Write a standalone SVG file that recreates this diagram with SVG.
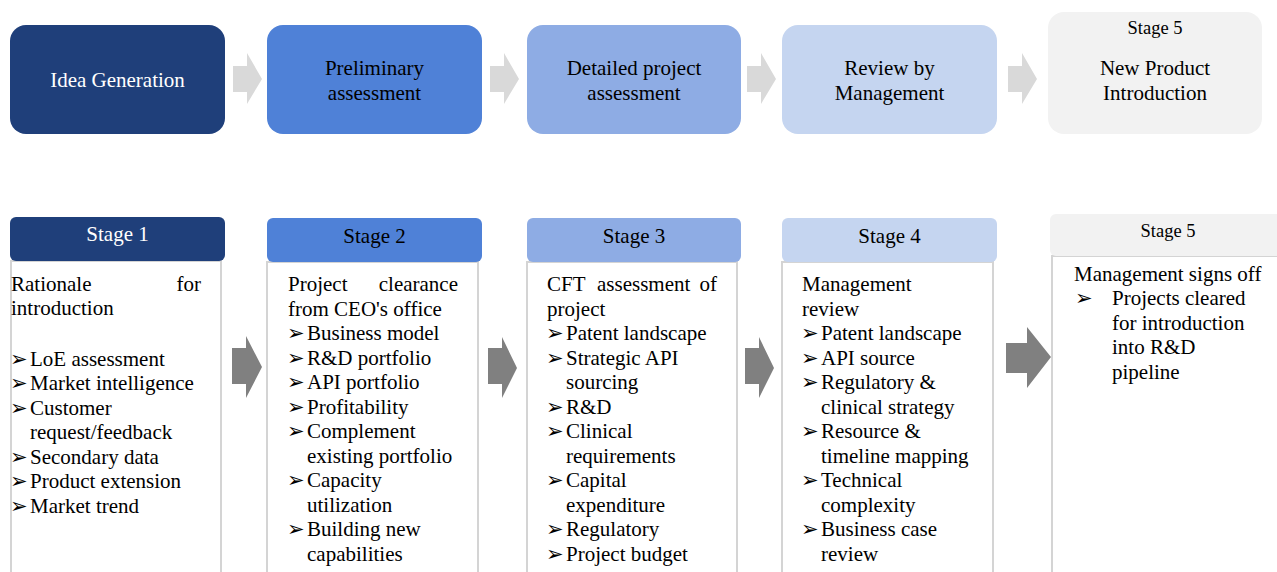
<svg xmlns="http://www.w3.org/2000/svg" width="1277" height="572" viewBox="0 0 1277 572">
<style>
text{font-family:"Liberation Serif","Times New Roman",serif;font-size:21px;fill:#000}
.c{text-anchor:middle}
.w{fill:#fff}
.e{text-anchor:end}
.s{font-size:18.5px}
.b{font-family:"DejaVu Sans",sans-serif;font-size:21px}
.body{fill:#fff;stroke:#d4d4d4;stroke-width:2}
.la{fill:#d9d9d9}
.da{fill:#808080}
</style>
<rect width="1277" height="572" fill="#fff"/>

<!-- Top row -->
<g id="top1"><rect x="10" y="25" width="215" height="109" rx="16" fill="#1f3f7a"/><text class="c w" x="117.5" y="87">Idea Generation</text></g>
<g id="top2"><rect x="267" y="25" width="215" height="109" rx="16" fill="#4f81d7"/><text class="c" x="374.5" y="75">Preliminary</text><text class="c" x="374.5" y="100">assessment</text></g>
<g id="top3"><rect x="527" y="25" width="214" height="109" rx="16" fill="#8eace4"/><text class="c" x="634" y="75">Detailed project</text><text class="c" x="634" y="100">assessment</text></g>
<g id="top4"><rect x="782" y="25" width="215" height="109" rx="16" fill="#c5d5f0"/><text class="c" x="889.5" y="75">Review by</text><text class="c" x="889.5" y="100">Management</text></g>
<g id="top5"><rect x="1048" y="12" width="214" height="122" rx="16" fill="#f2f2f2"/><text class="c s" x="1155" y="34">Stage 5</text><text class="c" x="1155" y="75">New Product</text><text class="c" x="1155" y="100">Introduction</text></g>

<!-- Bottom columns -->
<g id="stage1">
<rect class="body" x="11" y="261" width="210" height="330"/>
<rect x="10" y="217" width="215" height="44" rx="6" fill="#1f3f7a"/>
<text class="c w" x="117.5" y="241">Stage 1</text>
<text x="11" y="291">Rationale</text><text class="e" x="201" y="291">for</text>
<text x="11" y="315">introduction</text>
<text class="b" x="10" y="366">➢</text><text x="30" y="366">LoE assessment</text>
<text class="b" x="10" y="390">➢</text><text x="30" y="390">Market intelligence</text>
<text class="b" x="10" y="415">➢</text><text x="30" y="415">Customer</text>
<text x="30" y="439">request/feedback</text>
<text class="b" x="10" y="464">➢</text><text x="30" y="464">Secondary data</text>
<text class="b" x="10" y="488">➢</text><text x="30" y="488">Product extension</text>
<text class="b" x="10" y="513">➢</text><text x="30" y="513">Market trend</text>
</g>

<g id="stage2">
<rect class="body" x="267" y="262" width="211" height="330"/>
<rect x="267" y="218" width="215" height="44" rx="6" fill="#4f81d7"/>
<text class="c" x="374.5" y="243">Stage 2</text>
<text x="288" y="291">Project</text><text class="e" x="458" y="291">clearance</text>
<text x="288" y="316">from CEO's office</text>
<text class="b" x="287" y="340">➢</text><text x="307" y="340">Business model</text>
<text class="b" x="287" y="365">➢</text><text x="307" y="365">R&amp;D portfolio</text>
<text class="b" x="287" y="389">➢</text><text x="307" y="389">API portfolio</text>
<text class="b" x="287" y="414">➢</text><text x="307" y="414">Profitability</text>
<text class="b" x="287" y="438">➢</text><text x="307" y="438">Complement</text>
<text x="307" y="463">existing portfolio</text>
<text class="b" x="287" y="487">➢</text><text x="307" y="487">Capacity</text>
<text x="307" y="512">utilization</text>
<text class="b" x="287" y="536">➢</text><text x="307" y="536">Building new</text>
<text x="307" y="561">capabilities</text>
</g>

<g id="stage3">
<rect class="body" x="527" y="262" width="210" height="330"/>
<rect x="527" y="218" width="214" height="44" rx="6" fill="#8eace4"/>
<text class="c" x="634" y="243">Stage 3</text>
<text x="547" y="291">CFT</text><text x="597" y="291">assessment</text><text class="e" x="717" y="291">of</text>
<text x="547" y="316">project</text>
<text class="b" x="546" y="340">➢</text><text x="566" y="340">Patent landscape</text>
<text class="b" x="546" y="365">➢</text><text x="566" y="365">Strategic API</text>
<text x="566" y="389">sourcing</text>
<text class="b" x="546" y="414">➢</text><text x="566" y="414">R&amp;D</text>
<text class="b" x="546" y="438">➢</text><text x="566" y="438">Clinical</text>
<text x="566" y="463">requirements</text>
<text class="b" x="546" y="487">➢</text><text x="566" y="487">Capital</text>
<text x="566" y="512">expenditure</text>
<text class="b" x="546" y="536">➢</text><text x="566" y="536">Regulatory</text>
<text class="b" x="546" y="561">➢</text><text x="566" y="561">Project budget</text>
</g>

<g id="stage4">
<rect class="body" x="782" y="262" width="211" height="330"/>
<rect x="782" y="218" width="215" height="44" rx="6" fill="#c5d5f0"/>
<text class="c" x="889.5" y="243">Stage 4</text>
<text x="802" y="291">Management</text>
<text x="802" y="316">review</text>
<text class="b" x="801" y="340">➢</text><text x="821" y="340">Patent landscape</text>
<text class="b" x="801" y="365">➢</text><text x="821" y="365">API source</text>
<text class="b" x="801" y="389">➢</text><text x="821" y="389">Regulatory &amp;</text>
<text x="821" y="414">clinical strategy</text>
<text class="b" x="801" y="438">➢</text><text x="821" y="438">Resource &amp;</text>
<text x="821" y="463">timeline mapping</text>
<text class="b" x="801" y="487">➢</text><text x="821" y="487">Technical</text>
<text x="821" y="512">complexity</text>
<text class="b" x="801" y="536">➢</text><text x="821" y="536">Business case</text>
<text x="821" y="561">review</text>
</g>

<g id="stage5">
<rect class="body" x="1052" y="256" width="260" height="340"/>
<rect x="1050" y="214" width="260" height="42" rx="6" fill="#f2f2f2"/>
<text class="c s" x="1168" y="237">Stage 5</text>
<text x="1074" y="281">Management signs off</text>
<text class="b" x="1075" y="305">➢</text><text x="1112" y="305">Projects cleared</text>
<text x="1112" y="330">for introduction</text>
<text x="1112" y="354">into R&amp;D</text>
<text x="1112" y="379">pipeline</text>
</g>

<!-- Connectors -->
<g id="connectors">
<polygon class="la" points="233,66 247,66 247,53 262,79 247,104 247,92 233,92"/>
<polygon class="la" points="490,66 504,66 504,53 519,79 504,104 504,92 490,92"/>
<polygon class="la" points="747,66 761,66 761,53 776,79 761,104 761,92 747,92"/>
<polygon class="la" points="1008,66 1022,66 1022,53 1037,79 1022,104 1022,92 1008,92"/>
<polygon class="da" points="232,348 246,348 246,336 262,367 246,398 246,384 232,384"/>
<polygon class="da" points="488,348 502,348 502,337 517,368 502,398 502,384 488,384"/>
<polygon class="da" points="745,348 759,348 759,337 774,368 759,398 759,384 745,384"/>
<polygon class="da" points="1006,343 1027,343 1027,327 1051,357 1027,388 1027,373 1006,373"/>
</g>
</svg>
